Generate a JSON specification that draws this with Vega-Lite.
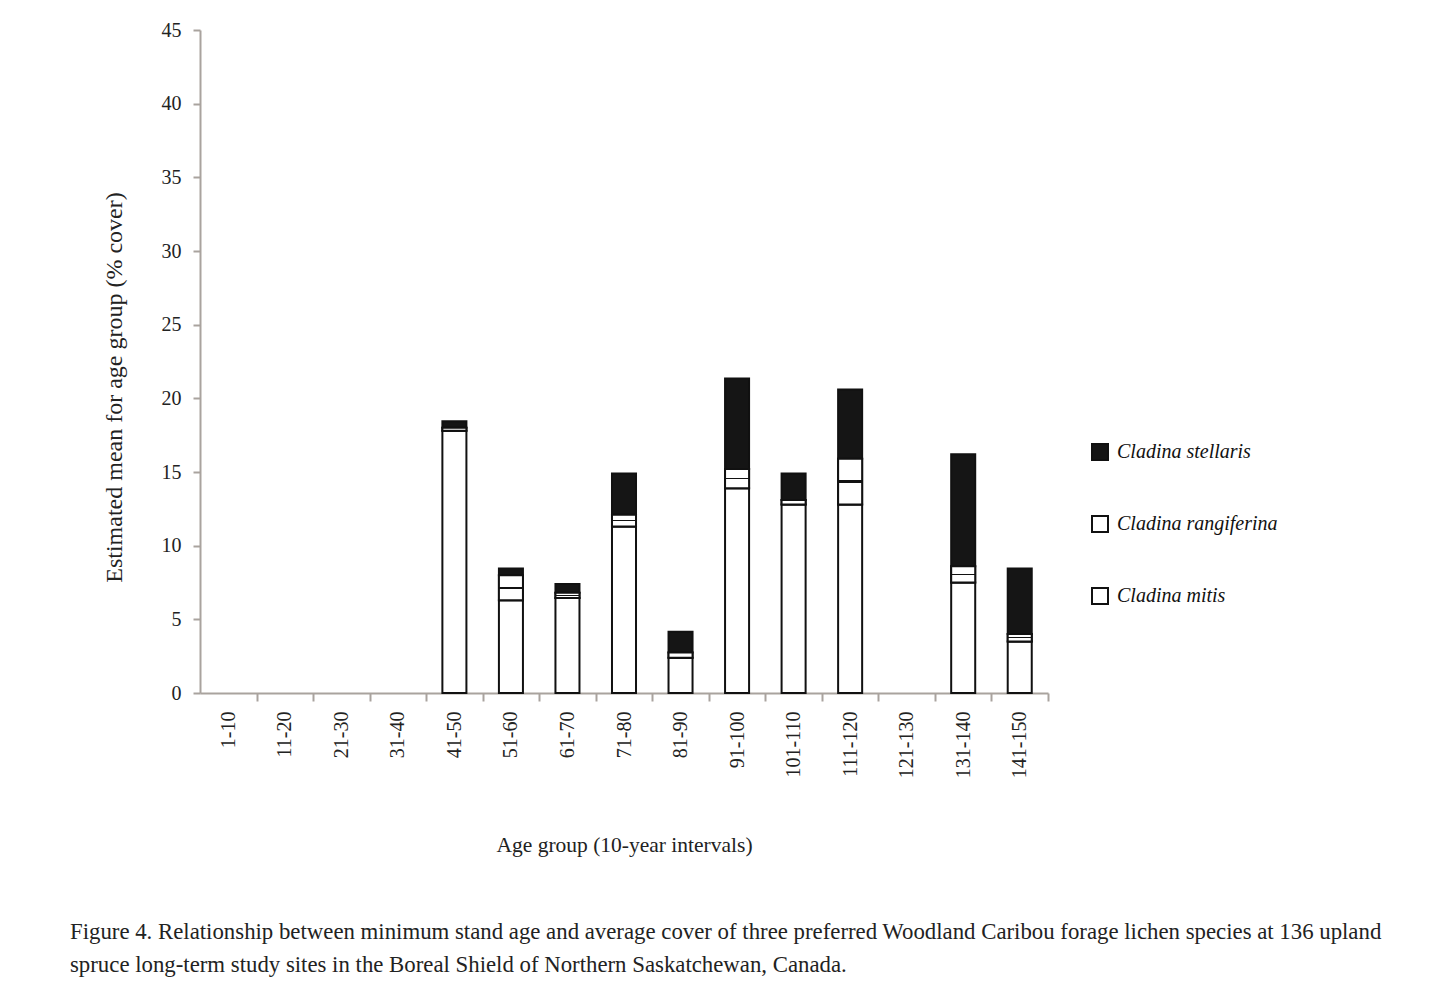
{
  "$schema": "https://vega.github.io/schema/vega-lite/v6.json",
  "width": 848,
  "height": 663,
  "autosize": {"type": "none"},
  "padding": {"left": 200, "top": 30, "right": 399, "bottom": 297},
  "background": "white",
  "config": {"view": {"stroke": null}, "font": "Liberation Serif"},
  "title": {
    "text": ["Figure 4. Relationship between minimum stand age and average cover of three preferred Woodland Caribou forage lichen species at 136 upland", "spruce long-term study sites in the Boreal Shield of Northern Saskatchewan, Canada."],
    "orient": "bottom",
    "anchor": "start",
    "frame": "group",
    "dx": -130,
    "offset": 65,
    "fontSize": 22.8,
    "fontWeight": "normal",
    "font": "Liberation Serif",
    "color": "#222222",
    "lineHeight": 33
  },
  "data": {
    "values": [
      {"age": "41-50", "species": "Cladina mitis", "value": 17.8},
      {"age": "41-50", "species": "Cladina rangiferina", "value": 0.2},
      {"age": "41-50", "species": "Cladina stellaris", "value": 0.45},
      {"age": "51-60", "species": "Cladina mitis", "value": 6.3},
      {"age": "51-60", "species": "Cladina rangiferina", "value": 1.7},
      {"age": "51-60", "species": "Cladina stellaris", "value": 0.45},
      {"age": "61-70", "species": "Cladina mitis", "value": 6.45},
      {"age": "61-70", "species": "Cladina rangiferina", "value": 0.35},
      {"age": "61-70", "species": "Cladina stellaris", "value": 0.6},
      {"age": "71-80", "species": "Cladina mitis", "value": 11.3},
      {"age": "71-80", "species": "Cladina rangiferina", "value": 0.8},
      {"age": "71-80", "species": "Cladina stellaris", "value": 2.8},
      {"age": "81-90", "species": "Cladina mitis", "value": 2.4},
      {"age": "81-90", "species": "Cladina rangiferina", "value": 0.35},
      {"age": "81-90", "species": "Cladina stellaris", "value": 1.4},
      {"age": "91-100", "species": "Cladina mitis", "value": 13.9},
      {"age": "91-100", "species": "Cladina rangiferina", "value": 1.3},
      {"age": "91-100", "species": "Cladina stellaris", "value": 6.15},
      {"age": "101-110", "species": "Cladina mitis", "value": 12.8},
      {"age": "101-110", "species": "Cladina rangiferina", "value": 0.3},
      {"age": "101-110", "species": "Cladina stellaris", "value": 1.8},
      {"age": "111-120", "species": "Cladina mitis", "value": 12.8},
      {"age": "111-120", "species": "Cladina rangiferina", "value": 3.1},
      {"age": "111-120", "species": "Cladina stellaris", "value": 4.7},
      {"age": "131-140", "species": "Cladina mitis", "value": 7.5},
      {"age": "131-140", "species": "Cladina rangiferina", "value": 1.1},
      {"age": "131-140", "species": "Cladina stellaris", "value": 7.6},
      {"age": "141-150", "species": "Cladina mitis", "value": 3.5},
      {"age": "141-150", "species": "Cladina rangiferina", "value": 0.5},
      {"age": "141-150", "species": "Cladina stellaris", "value": 4.45}
    ]
  },
  "transform": [
    {"stack": "value", "groupby": ["age"], "sort": [{"field": "species", "order": "ascending"}], "as": ["y0", "y1"]}
  ],
  "layer": [
    {
      "mark": {"type": "bar", "stroke": "#111111", "strokeWidth": 2},
      "encoding": {
        "x": {
          "field": "age",
          "type": "nominal",
          "sort": null,
          "scale": {
            "domain": ["1-10", "11-20", "21-30", "31-40", "41-50", "51-60", "61-70", "71-80", "81-90", "91-100", "101-110", "111-120", "121-130", "131-140", "141-150"],
            "paddingInner": 0.575,
            "paddingOuter": 0.2875
          },
          "axis": {
            "title": "Age group (10-year intervals)",
            "titleFontSize": 21.5,
            "titleFontWeight": "normal",
            "titleColor": "#222222",
            "titlePadding": 57,
            "labelAngle": -90,
            "labelFontSize": 20,
            "labelColor": "#222222",
            "labelPadding": 10,
            "tickBand": "center",
            "tickOffset": 28.27,
            "labelOffset": -28.27,
            "tickSize": 8,
            "tickWidth": 2,
            "tickColor": "#a9a39e",
            "domainColor": "#a9a39e",
            "domainWidth": 2
          }
        },
        "y": {
          "field": "y1",
          "type": "quantitative",
          "scale": {"domain": [0, 45]},
          "axis": {
            "title": "Estimated mean for age group (% cover)",
            "titleFontSize": 24,
            "titleFontWeight": "normal",
            "titleColor": "#222222",
            "titlePadding": 35,
            "titleY": 357,
            "values": [0, 5, 10, 15, 20, 25, 30, 35, 40, 45],
            "labelFontSize": 20,
            "labelColor": "#222222",
            "labelPadding": 12,
            "tickSize": 7,
            "tickWidth": 2,
            "tickColor": "#a9a39e",
            "domainColor": "#a9a39e",
            "domainWidth": 2,
            "grid": false
          }
        },
        "y2": {"field": "y0"},
        "fill": {
          "field": "species",
          "type": "nominal",
          "scale": {
            "domain": ["Cladina stellaris", "Cladina rangiferina", "Cladina mitis"],
            "range": ["#151515", "#ffffff", "#ffffff"]
          },
          "legend": {
            "title": null,
            "orient": "none",
            "legendX": 890,
            "legendY": 412,
            "symbolType": "square",
            "symbolSize": 256,
            "symbolStrokeColor": "#111111",
            "symbolStrokeWidth": 2,
            "labelFontSize": 20,
            "labelFontStyle": "italic",
            "labelColor": "#111111",
            "labelOffset": 7,
            "rowPadding": 48,
            "labelLimit": 400
          }
        }
      }
    },
    {
      "transform": [{"filter": "datum.species === 'Cladina rangiferina'"}],
      "mark": {
        "type": "bar",
        "stroke": "#111111",
        "strokeWidth": 2,
        "fill": {
          "gradient": "linear",
          "x1": 0, "y1": 0, "x2": 0, "y2": 1,
          "stops": [
            {"offset": 0, "color": "#ffffff"},
            {"offset": 0.46, "color": "#ffffff"},
            {"offset": 0.46, "color": "#111111"},
            {"offset": 0.54, "color": "#111111"},
            {"offset": 0.54, "color": "#ffffff"},
            {"offset": 1, "color": "#ffffff"}
          ]
        }
      },
      "encoding": {
        "x": {"field": "age", "type": "nominal", "sort": null},
        "y": {"field": "y1", "type": "quantitative"},
        "y2": {"field": "y0"}
      }
    }
  ]
}
